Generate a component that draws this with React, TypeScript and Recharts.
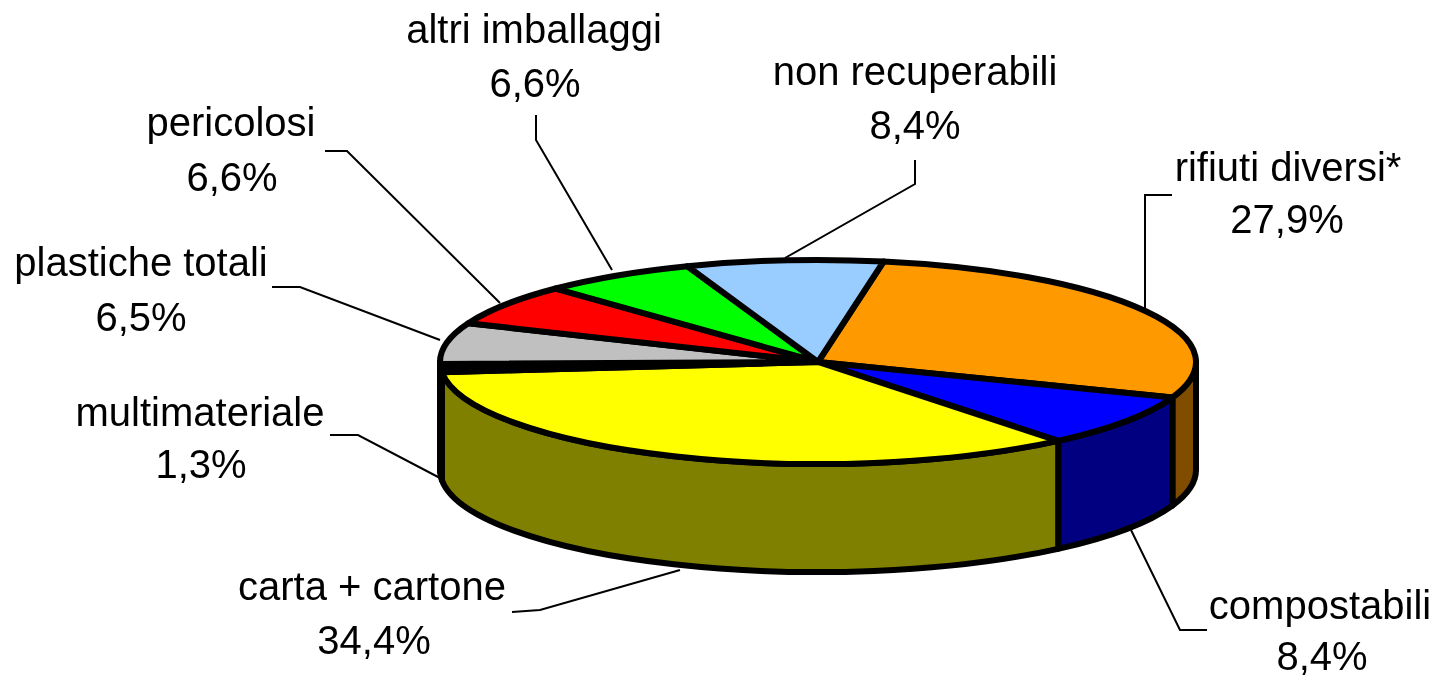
import { PieChart, Pie } from 'recharts'

const categories = ['rifiuti diversi*', 'compostabili', 'carta + cartone', 'multimateriale', 'plastiche totali', 'pericolosi', 'altri imballaggi', 'non recuperabili']
const values = [27.9, 8.4, 34.4, 1.3, 6.5, 6.6, 6.6, 8.4]
const topColors = ['#FF9900', '#0000FF', '#FFFF00', '#000000', '#C0C0C0', '#FF0000', '#00FF00', '#99CCFF']
const sideColors = ['#804C00', '#000080', '#808000', '#000000', '#606060', '#800000', '#008000', '#4C6680']

const chartData = categories.map((name, i) => ({ name, value: values[i] }))

// the pie is drawn flat by Recharts, the shape below tilts it
const SQUASH = 0.27
const DEPTH = 108

// hand placed labels, as in the original: [name x, name y, value x, value y]
const labelSpots = [
  [1288, 181, 1287, 233],
  [1320, 619, 1322, 670],
  [372, 600, 374, 654],
  [200, 426, 201, 478],
  [141, 276, 141, 331],
  [231, 136, 232, 191],
  [534, 43, 535, 97],
  [915, 85, 915, 139],
]
const leaders = [
  '1172,195 1145,195 1145,308',
  '1207,630 1180,630 1131,530',
  '512,612 540,610 680,570',
  '330,435 358,435 440,478',
  '272,287 300,287 440,340',
  '325,151 347,151 500,303',
  '536,115 536,140 612,270',
  '915,160 915,184 785,258',
]

const rad = (deg: number) => (deg * Math.PI) / 180

function TiltedSlice(props: any) {
  const { cx, cy, outerRadius: r, startAngle, endAngle, fill, index } = props
  const ry = r * SQUASH
  const px = (a: number) => cx + r * Math.cos(rad(a))
  const py = (a: number) => cy - ry * Math.sin(rad(a))
  const large = startAngle - endAngle > 180 ? 1 : 0
  const top = `M${cx},${cy} L${px(startAngle)},${py(startAngle)} A${r},${ry} 0 ${large} 1 ${px(endAngle)},${py(endAngle)} Z`

  // only the part of the rim facing us gets a wall (angles 0 to -180 here)
  const a0 = Math.min(startAngle, 0)
  const a1 = Math.max(endAngle, -180)
  let wall = null
  if (a0 > a1) {
    wall = `M${px(a0)},${py(a0)} A${r},${ry} 0 0 1 ${px(a1)},${py(a1)} L${px(a1)},${py(a1) + DEPTH} A${r},${ry} 0 0 0 ${px(a0)},${py(a0) + DEPTH} Z`
  }
  return (
    <g>
      {wall && <path d={wall} fill={sideColors[index]} stroke="#000" strokeWidth={6} strokeLinejoin="round" />}
      <path d={top} fill={fill} stroke="#000" strokeWidth={6} strokeLinejoin="round" />
    </g>
  )
}

function SliceLabel(props: any) {
  const { index } = props
  const [nx, ny, vx, vy] = labelSpots[index]
  return (
    <g>
      <polyline points={leaders[index]} fill="none" stroke="#000" strokeWidth={2} />
      <text x={nx} y={ny} textAnchor="middle" fontFamily="Liberation Sans" fontSize={40} fill="#000">{categories[index]}</text>
      <text x={vx} y={vy} textAnchor="middle" fontFamily="Liberation Sans" fontSize={40} fill="#000">{values[index].toFixed(1).replace('.', ',')}%</text>
    </g>
  )
}

export default function App() {
  return (
    <div style={{ position: 'absolute', left: 0, top: 0, width: 1436, height: 679, background: '#fff', filter: 'blur(0.6px)' }}>
      <PieChart width={1436} height={679} margin={{ top: 0, right: 0, bottom: 0, left: 0 }}>
        <Pie
          data={chartData}
          dataKey="value"
          nameKey="name"
          cx={818}
          cy={362}
          outerRadius={378}
          startAngle={80}
          endAngle={-280}
          stroke="none"
          shape={(p: any, i: number) => <TiltedSlice {...p} index={i} fill={topColors[i]} />}
          label={SliceLabel}
          labelLine={false}
          isAnimationActive={false}
        />
      </PieChart>
    </div>
  )
}
